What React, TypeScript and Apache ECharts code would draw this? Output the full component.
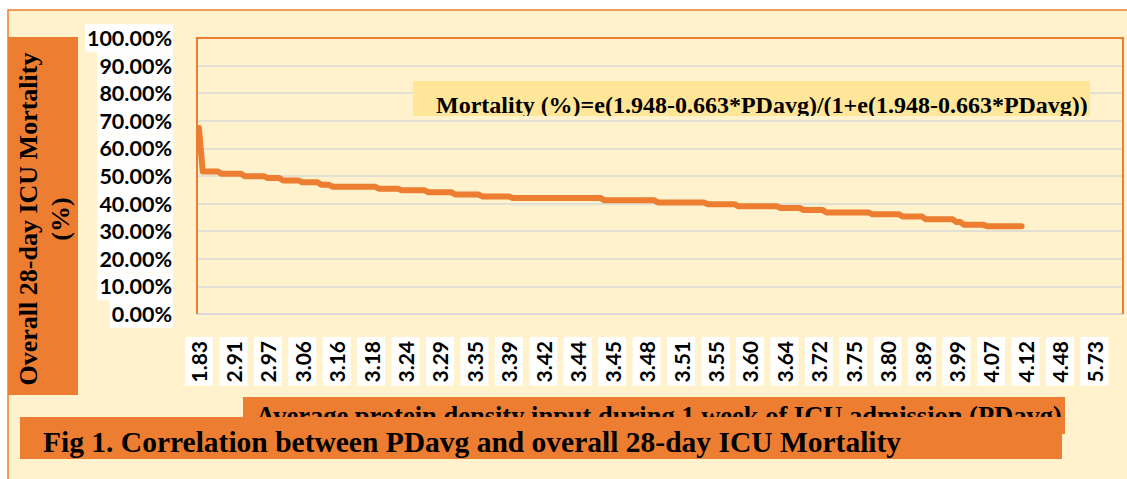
import React, { useEffect, useRef } from "react";
import * as echarts from "echarts";

// ---- data ----
const tickLabels = [
  "1.83", "2.91", "2.97", "3.06", "3.16", "3.18", "3.24", "3.29", "3.35",
  "3.39", "3.42", "3.44", "3.45", "3.48", "3.51", "3.55", "3.60", "3.64",
  "3.72", "3.75", "3.80", "3.89", "3.99", "4.07", "4.12", "4.48", "5.73",
];
const LABEL_STEP = 9; // one visible label for every 9 categories
const CATEGORY_COUNT = 242;

// Mortality (%) along the sorted PDavg categories (stepped line)
const mortality = [
  67.4, 51.6, 51.6, 51.6, 51.6, 51.6, 50.8, 50.8, 50.8, 50.8,
  50.8, 50.8, 49.9, 49.9, 49.9, 49.9, 49.9, 49.9, 49.3, 49.3,
  49.3, 49.3, 48.4, 48.4, 48.4, 48.4, 48.4, 47.7, 47.7, 47.7,
  47.7, 47.7, 46.8, 46.8, 46.8, 46.1, 46.1, 46.1, 46.1, 46.1,
  46.1, 46.1, 46.1, 46.1, 46.1, 46.1, 46.1, 45.4, 45.4, 45.4,
  45.4, 45.4, 45.4, 44.8, 44.8, 44.8, 44.8, 44.8, 44.8, 44.8,
  44.1, 44.1, 44.1, 44.1, 44.1, 44.1, 44.1, 43.3, 43.3, 43.3,
  43.3, 43.3, 43.3, 43.3, 42.6, 42.6, 42.6, 42.6, 42.6, 42.6,
  42.6, 42.6, 42.0, 42.0, 42.0, 42.0, 42.0, 42.0, 42.0, 42.0,
  42.0, 42.0, 42.0, 42.0, 42.0, 42.0, 42.0, 42.0, 42.0, 42.0,
  42.0, 42.0, 42.0, 42.0, 42.0, 42.0, 41.2, 41.2, 41.2, 41.2,
  41.2, 41.2, 41.2, 41.2, 41.2, 41.2, 41.2, 41.2, 41.2, 41.2,
  40.4, 40.4, 40.4, 40.4, 40.4, 40.4, 40.4, 40.4, 40.4, 40.4,
  40.4, 40.4, 40.4, 39.8, 39.8, 39.8, 39.8, 39.8, 39.8, 39.8,
  39.8, 39.0, 39.0, 39.0, 39.0, 39.0, 39.0, 39.0, 39.0, 39.0,
  39.0, 39.0, 38.4, 38.4, 38.4, 38.4, 38.4, 38.4, 37.7, 37.7,
  37.7, 37.7, 37.7, 37.7, 36.8, 36.8, 36.8, 36.8, 36.8, 36.8,
  36.8, 36.8, 36.8, 36.8, 36.8, 36.8, 36.1, 36.1, 36.1, 36.1,
  36.1, 36.1, 36.1, 36.1, 35.3, 35.3, 35.3, 35.3, 35.3, 35.3,
  34.3, 34.3, 34.3, 34.3, 34.3, 34.3, 34.3, 34.3, 33.3, 33.3,
  32.3, 32.3, 32.3, 32.3, 32.3, 32.3, 31.8, 31.8, 31.8, 31.8,
  31.8, 31.8, 31.8, 31.8, 31.8, 31.8,
];

const Y_MIN = 0;
const Y_MAX = 100;
const Y_INTERVAL = 10;

const equationText = "Mortality (%)=e(1.948-0.663*PDavg)/(1+e(1.948-0.663*PDavg))";
const yTitle = "Overall 28-day ICU Mortality\n(%)";
const xTitle = "Average protein density input during 1 week of ICU admission (PDavg)";
const figTitle = "Fig 1. Correlation between PDavg and overall 28-day ICU Mortality";

const ORANGE = "#ED7D31";
const CREAM = "#FFF2CC";
const GOLD = "#FFE699";
const SERIF = '"Liberation Serif", "Times New Roman", serif';
const SANS = 'Lato, "Open Sans", sans-serif';

const categories = Array.from({ length: CATEGORY_COUNT }, (_, i) =>
  i % LABEL_STEP === 0 && tickLabels[i / LABEL_STEP] !== undefined
    ? tickLabels[i / LABEL_STEP]
    : ""
);

export default function App() {
  const ref = useRef<HTMLDivElement>(null);

  useEffect(() => {
    if (!ref.current) return;
    const chart = echarts.init(ref.current, undefined, { renderer: "svg" });

    const G = { left: 197, top: 38, width: 926, height: 276 };

    chart.setOption({
      animation: false,
      backgroundColor: "#ffffff",
      grid: { ...G, show: false, containLabel: false },
      xAxis: {
        type: "category",
        data: categories,
        boundaryGap: true,
        axisLine: { show: true, lineStyle: { color: "#D9D9D9", width: 2 } },
        axisTick: { show: false },
        splitLine: { show: false },
        axisLabel: {
          interval: LABEL_STEP - 1,
          rotate: 90,
          margin: 23,
          fontSize: 21,
          fontWeight: "bold",
          fontFamily: SANS,
          color: "#000",
          backgroundColor: "#ffffff",
          lineHeight: 19,
          padding: [9, 4, 0, 3],
        },
      },
      yAxis: {
        type: "value",
        min: Y_MIN,
        max: Y_MAX,
        interval: Y_INTERVAL,
        axisLine: { show: false },
        axisTick: { show: false },
        splitLine: { show: true, lineStyle: { color: "#D9D9D9", width: 1.5 } },
        axisLabel: {
          margin: 24,
          fontSize: 21.5,
          fontWeight: "bold",
          fontFamily: SANS,
          color: "#000",
          backgroundColor: "#ffffff",
          lineHeight: 27.5,
          padding: [0, 1, 0, 2],
          formatter: (v: number) => `${v.toFixed(2)}%`,
        },
      },
      series: [
        {
          type: "line",
          data: mortality,
          showSymbol: false,
          symbol: "none",
          z: 3,
          itemStyle: { color: ORANGE },
          lineStyle: { color: ORANGE, width: 6, cap: "round", join: "round" },
        },
      ],
      graphic: [
        // outer chart area
        {
          type: "rect",
          z: -1,
          silent: true,
          shape: { x: 8, y: 10, width: 1130, height: 480 },
          style: { fill: CREAM, stroke: ORANGE, lineWidth: 1.5 },
        },
        // plot area border (left, top, right)
        {
          type: "polyline",
          z: 4,
          silent: true,
          shape: {
            points: [
              [G.left, G.top + G.height],
              [G.left, G.top],
              [G.left + G.width, G.top],
              [G.left + G.width, G.top + G.height],
            ],
          },
          style: { stroke: ORANGE, lineWidth: 2, fill: null },
        },
        // y-axis title
        {
          type: "rect",
          z: 5,
          silent: true,
          shape: { x: 8, y: 37, width: 70, height: 358 },
          style: { fill: ORANGE },
        },
        {
          type: "text",
          z: 6,
          silent: true,
          x: 44.5,
          y: 219,
          rotation: Math.PI / 2,
          style: {
            text: yTitle,
            fill: "#000",
            fontFamily: SERIF,
            fontWeight: "bold",
            fontSize: 26,
            lineHeight: 32.5,
            align: "center",
            verticalAlign: "middle",
          },
        },
        // equation box
        {
          type: "rect",
          z: 5,
          silent: true,
          shape: { x: 413, y: 81, width: 677, height: 35 },
          style: { fill: GOLD },
        },
        {
          type: "text",
          z: 6,
          silent: true,
          x: 436,
          y: 105,
          style: {
            text: equationText,
            fill: "#000",
            fontFamily: SERIF,
            fontWeight: "bold",
            fontSize: 24,
            align: "left",
            verticalAlign: "middle",
          },
        },
        {
          type: "rect",
          z: 7,
          silent: true,
          shape: { x: 413, y: 116, width: 677, height: 3.5 },
          style: { fill: CREAM },
        },
        // x-axis title (its lower half is hidden by the caption box, as in the reference)
        {
          type: "rect",
          z: 10,
          silent: true,
          shape: { x: 243, y: 397, width: 822, height: 37 },
          style: { fill: ORANGE },
        },
        {
          type: "text",
          z: 11,
          silent: true,
          x: 256,
          y: 416,
          style: {
            text: xTitle,
            fill: "#000",
            fontFamily: SERIF,
            fontWeight: "bold",
            fontSize: 26.5,
            align: "left",
            verticalAlign: "middle",
          },
        },
        // figure caption
        {
          type: "rect",
          z: 12,
          silent: true,
          shape: { x: 20, y: 417, width: 1042, height: 42 },
          style: { fill: ORANGE },
        },
        {
          type: "text",
          z: 13,
          silent: true,
          x: 43,
          y: 442,
          style: {
            text: figTitle,
            fill: "#000",
            fontFamily: SERIF,
            fontWeight: "bold",
            fontSize: 29.5,
            align: "left",
            verticalAlign: "middle",
          },
        },
      ],
    });

    return () => chart.dispose();
  }, []);

  return (
    <div
      ref={ref}
      style={{ position: "fixed", left: 0, top: 0, width: 1127, height: 479 }}
    />
  );
}
